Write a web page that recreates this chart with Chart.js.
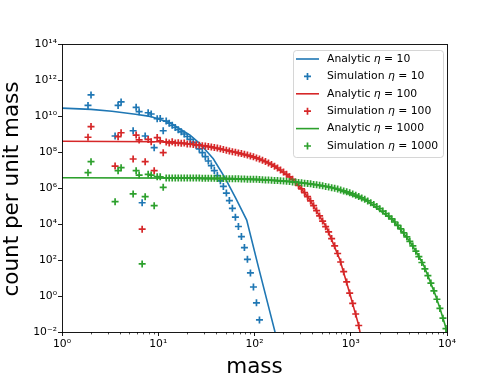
<!DOCTYPE html>
<html><head><meta charset="utf-8">
<script src="https://cdn.jsdelivr.net/npm/chart.js@4"></script>
<style>html,body{margin:0;padding:0;background:#fff}canvas{display:block}</style>
</head><body>
<canvas id="c" width="498" height="374"></canvas>
<script>
// ---- data ----
// simulation mass bins (x positions of the + markers)
const binMass = [1.863, 2.002, 3.561, 3.826, 4.112, 5.483, 5.892, 6.332, 6.804, 7.312, 7.857, 8.443, 9.073, 9.750,
  10.48, 11.26, 12.10, 13.00, 13.97, 15.02, 16.14, 17.34, 18.63, 20.02, 21.52, 23.12, 24.85, 26.70, 28.69, 30.83,
  33.13, 35.61, 38.26, 41.12, 44.19, 47.48, 51.03, 54.83, 58.92, 63.32, 68.04, 73.12, 78.57, 84.43, 90.73, 97.50,
  104.8, 112.6, 121.0, 130.0, 139.7, 150.2, 161.4, 173.4, 186.3, 200.2, 215.2, 231.2, 248.5, 267.0, 286.9, 308.3,
  331.3, 356.1, 382.6, 411.2, 441.8, 474.8, 510.2, 548.3, 589.2, 633.1, 680.4, 731.1, 785.7, 844.3, 907.3, 975.0,
  1048, 1126, 1210, 1300, 1397, 1501, 1613, 1734, 1863, 2002, 2151, 2312, 2484, 2670, 2869, 3083, 3313, 3560,
  3826, 4111, 4418, 4748, 5102, 5483, 5892, 6331, 6804, 7311, 7857, 8443, 9073, 9750];

// simulation counts per unit mass, as log10 values, one per bin above (from the first bin on)
const sim10Log = [10.59, 11.17, 8.89, 10.59, 10.78, 9.18, 10.48, 10.24, 5.18, 8.89, 10.18, 10.11, 8.24, 9.85,
  9.86, 9.18, 9.72, 9.60, 9.48, 9.36, 9.24, 9.12, 9.00, 8.86, 8.70, 8.54, 8.36, 8.17, 7.96, 7.74, 7.50, 7.24,
  6.97, 6.69, 6.40, 6.09, 5.72, 5.30, 4.87, 4.38, 3.86, 3.30, 2.69, 2.04, 1.28, 0.50, -0.38, -1.33];

const sim100Log = [8.82, 9.41, 7.22, 8.85, 9.07, 7.61, 8.94, 8.67, 3.71, 7.46, 8.70, 8.57, 6.96, 8.80,
  8.62, 7.96, 8.56, 8.50, 8.57, 8.50, 8.52, 8.48, 8.50, 8.45, 8.45, 8.42, 8.40, 8.38, 8.35, 8.34, 8.31, 8.28,
  8.25, 8.22, 8.18, 8.14, 8.10, 8.06, 8.02, 7.99, 7.95, 7.91, 7.87, 7.83, 7.78, 7.73, 7.67, 7.61, 7.54, 7.47,
  7.39, 7.31, 7.21, 7.11, 7.00, 6.89, 6.76, 6.62, 6.48, 6.31, 6.14, 5.95, 5.74, 5.52, 5.28, 5.02, 4.74, 4.45,
  4.16, 3.85, 3.56, 3.19, 2.79, 2.36, 1.89, 1.35, 0.78, 0.16, -0.41, -1.00, -1.64];

const sim1000Log = [6.85, 7.46, 5.24, 6.96, 7.13, 5.67, 6.96, 6.72, 1.78, 5.52, 6.76, 6.72, 5.02, 6.63,
  6.62, 6.04, 6.56, 6.56, 6.56, 6.56, 6.56, 6.55, 6.55, 6.55, 6.55, 6.55, 6.55, 6.55, 6.54, 6.54, 6.54, 6.54,
  6.54, 6.53, 6.53, 6.53, 6.52, 6.52, 6.52, 6.51, 6.51, 6.50, 6.50, 6.49, 6.49, 6.48, 6.48, 6.47, 6.46, 6.45,
  6.44, 6.43, 6.42, 6.41, 6.40, 6.39, 6.37, 6.36, 6.34, 6.33, 6.31, 6.29, 6.27, 6.25, 6.23, 6.20, 6.18, 6.15,
  6.12, 6.09, 6.06, 6.02, 5.98, 5.94, 5.89, 5.84, 5.79, 5.73, 5.67, 5.60, 5.53, 5.45, 5.37, 5.28, 5.18, 5.08,
  4.97, 4.85, 4.72, 4.58, 4.44, 4.28, 4.11, 3.92, 3.73, 3.51, 3.29, 3.04, 2.78, 2.49, 2.19, 1.86, 1.51, 1.13,
  0.72, 0.29, -0.18, -0.69, -1.23, -1.81];

// analytic curves: mass and log10(count per unit mass)
const anaMass10 = [1, 2, 3.3, 5.8, 8.2, 13.3, 21.4, 27.2, 32, 37.3, 49.4, 64, 83, 109.6, 163, 172];
const anaLog10  = [10.44, 10.37, 10.26, 10.10, 9.98, 9.62, 8.94, 8.45, 8.03, 7.62, 6.56, 5.42, 4.22, 1.63, -1.98, -2.6];

const anaMass100 = [1, 10, 21, 27, 55, 114, 145, 234, 297, 377, 480, 562, 773, 982, 1198, 1270];
const anaLog100  = [8.60, 8.57, 8.45, 8.38, 8.05, 7.60, 7.35, 6.60, 6.05, 5.33, 4.40, 3.80, 2.00, 0.10, -1.55, -2.2];

const anaMass1000 = [1, 21, 114, 234, 480, 659, 1466, 2768, 3516, 4130, 5035, 5675, 6150, 7500, 8460, 9530, 10000];
const anaLog1000  = [6.57, 6.55, 6.46, 6.36, 6.15, 6.00, 5.28, 4.20, 3.50, 3.02, 2.25, 1.75, 1.30, 0.12, -0.70, -1.60, -2.00];

const seriesLabels = ['Analytic η = 10', 'Simulation η = 10', 'Analytic η = 100', 'Simulation η = 100',
  'Analytic η = 1000', 'Simulation η = 1000'];
const xTickValues = [1, 10, 100, 1000, 10000];
const yTickValues = [1e-2, 1e0, 1e2, 1e4, 1e6, 1e8, 1e10, 1e12, 1e14];
const xTitle = 'mass';
const yTitle = 'count per unit mass';

// ---- styles ----
const BLUE = '#1f77b4', RED = '#d62728', GREEN = '#2ca02c';
const FONT = 'DejaVu Sans';
const SUP = {'0':'⁰','1':'¹','2':'²','3':'³','4':'⁴','5':'⁵','6':'⁶','7':'⁷','8':'⁸','9':'⁹','-':'⁻'};
const powLabel = v => '10' + String(Math.round(Math.log10(v))).split('').map(c => SUP[c]).join('');
const pts = (ms, logs) => logs.map((v, i) => ({x: ms[i], y: Math.pow(10, v)}));

function lineSet(label, ms, logs, color, order) {
  return {label, data: pts(ms, logs), showLine: true, fill: false, tension: 0, borderColor: color,
    borderWidth: 1.6, pointRadius: 0, pointHoverRadius: 0, order};
}
function simSet(label, logs, color, order) {
  return {label, data: pts(binMass, logs), showLine: false, pointStyle: 'cross', pointRadius: 3.5,
    pointHoverRadius: 3.5, pointBorderWidth: 1.7, pointBorderColor: color, borderColor: color,
    backgroundColor: color, order};
}

const decor = {
  id: 'decor',
  afterDatasetsDraw(chart) {
    const {ctx, chartArea: a, scales: {x}} = chart;
    ctx.save();
    // minor x ticks
    ctx.strokeStyle = '#000'; ctx.lineWidth = 0.7; ctx.beginPath();
    for (let d = 1; d < 10000; d *= 10) for (let j = 2; j <= 9; j++) {
      const px = Math.round(x.getPixelForValue(d * j)) + 0.5;
      ctx.moveTo(px, a.bottom); ctx.lineTo(px, a.bottom + 2.4);
    }
    ctx.stroke();
    // frame
    ctx.lineWidth = 0.9;
    ctx.strokeRect(Math.round(a.left) + 0.5, Math.round(a.top) + 0.5, Math.round(a.right - a.left), Math.round(a.bottom - a.top));
    ctx.restore();
  },
  afterDraw(chart) {
    const {ctx, chartArea: a} = chart;
    ctx.save();
    // axis titles
    ctx.fillStyle = '#000';
    ctx.font = '21.5px "' + FONT + '"';
    ctx.textAlign = 'center'; ctx.textBaseline = 'alphabetic';
    ctx.fillText(xTitle, (a.left + a.right) / 2, 373);
    ctx.translate(17.5, (a.top + a.bottom) / 2 + 1);
    ctx.rotate(-Math.PI / 2);
    ctx.fillText(yTitle, 0, 0);
    ctx.restore();

    // legend
    ctx.save();
    const lx = 293.5, ly = 50.5, lw = 150, lh = 107, r = 3;
    ctx.beginPath();
    ctx.moveTo(lx + r, ly); ctx.lineTo(lx + lw - r, ly); ctx.arcTo(lx + lw, ly, lx + lw, ly + r, r);
    ctx.lineTo(lx + lw, ly + lh - r); ctx.arcTo(lx + lw, ly + lh, lx + lw - r, ly + lh, r);
    ctx.lineTo(lx + r, ly + lh); ctx.arcTo(lx, ly + lh, lx, ly + lh - r, r);
    ctx.lineTo(lx, ly + r); ctx.arcTo(lx, ly, lx + r, ly, r); ctx.closePath();
    ctx.fillStyle = 'rgba(255,255,255,0.8)'; ctx.fill();
    ctx.strokeStyle = 'rgba(204,204,204,0.8)'; ctx.lineWidth = 1; ctx.stroke();
    const cols = [BLUE, BLUE, RED, RED, GREEN, GREEN];
    ctx.textBaseline = 'middle'; ctx.textAlign = 'left';
    seriesLabels.forEach((lab, i) => {
      const y = 59 + i * 17.4;
      ctx.strokeStyle = cols[i];
      ctx.lineWidth = i % 2 === 0 ? 1.6 : 1.7;
      ctx.beginPath();
      if (i % 2 === 0) { ctx.moveTo(296, y); ctx.lineTo(319, y); }
      else { ctx.moveTo(304, y); ctx.lineTo(311, y); ctx.moveTo(307.5, y - 3.5); ctx.lineTo(307.5, y + 3.5); }
      ctx.stroke();
      const parts = lab.split('η');
      let tx = 327;
      ctx.fillStyle = '#000';
      ctx.font = '10.8px "' + FONT + '"';
      ctx.fillText(parts[0], tx, y); tx += ctx.measureText(parts[0]).width;
      ctx.font = 'italic 10.8px "' + FONT + '"';
      ctx.fillText('η', tx, y); tx += ctx.measureText('η').width;
      ctx.font = '10.8px "' + FONT + '"';
      ctx.fillText(parts[1], tx, y);
    });
    ctx.restore();
  }
};

new Chart(document.getElementById('c'), {
  type: 'scatter',
  data: {datasets: [
    lineSet(seriesLabels[0], anaMass10, anaLog10, BLUE, 6),
    simSet(seriesLabels[1], sim10Log, BLUE, 5),
    lineSet(seriesLabels[2], anaMass100, anaLog100, RED, 4),
    simSet(seriesLabels[3], sim100Log, RED, 3),
    lineSet(seriesLabels[4], anaMass1000, anaLog1000, GREEN, 2),
    simSet(seriesLabels[5], sim1000Log, GREEN, 1)
  ]},
  options: {
    responsive: false, devicePixelRatio: 1, animation: false, events: [],
    layout: {padding: {left: 0, top: 44, right: 51, bottom: 0}},
    plugins: {legend: {display: false}, tooltip: {enabled: false}, title: {display: false}},
    scales: {
      x: {type: 'logarithmic', position: 'bottom', min: 1, max: 10000,
        afterBuildTicks: s => { s.ticks = xTickValues.map(v => ({value: v})); },
        afterFit: s => { s.height = 42; },
        ticks: {callback: v => powLabel(v), color: '#000', font: {family: FONT, size: 10.8},
          padding: 2, maxRotation: 0, autoSkip: false},
        grid: {display: true, drawOnChartArea: false, drawTicks: true, tickLength: 4, color: '#000', lineWidth: 0.9},
        border: {display: false}},
      y: {type: 'logarithmic', position: 'left', min: 1e-2, max: 1e14,
        afterBuildTicks: s => { s.ticks = yTickValues.map(v => ({value: v})); },
        afterFit: s => { s.width = 62; },
        ticks: {callback: v => powLabel(v), color: '#000', font: {family: FONT, size: 10.8},
          padding: 1, autoSkip: false},
        grid: {display: true, drawOnChartArea: false, drawTicks: true, tickLength: 4, color: '#000', lineWidth: 0.9},
        border: {display: false}}
    }
  },
  plugins: [decor]
});
</script>
</body></html>
